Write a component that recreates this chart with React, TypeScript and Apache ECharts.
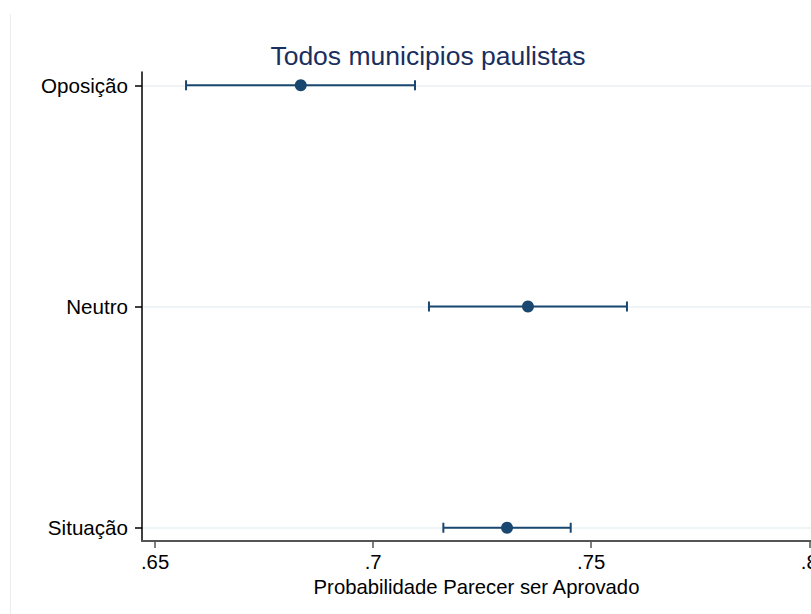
import React, { useEffect, useRef } from "react";
import * as echarts from "echarts";

const categories = ["Situação", "Neutro", "Oposição"];
const estimates = [0.7307, 0.7355, 0.6834];
const lower = [0.7161, 0.7128, 0.6571];
const upper = [0.7453, 0.7582, 0.7096];
const xTicks = [0.65, 0.7, 0.75, 0.8];
const yTicks = [1, 2, 3];

const FONT = "'Liberation Sans', Arial, sans-serif";
const NAVY = "#1a476f";

export default function App() {
  const ref = useRef<HTMLDivElement>(null);
  useEffect(() => {
    if (!ref.current) return;
    const chart = echarts.init(ref.current, undefined, { renderer: "svg" });
    const ciData = categories.map((_, i) => [lower[i], upper[i], i + 1]);
    const ptData = categories.map((_, i) => [estimates[i], i + 1]);
    chart.setOption({
      animation: false,
      backgroundColor: "#ffffff",
      textStyle: { fontFamily: FONT },
      title: {
        text: "Todos municipios paulistas",
        left: 423,
        textAlign: "center",
        top: 37,
        textStyle: { fontFamily: FONT, fontSize: 26.5, fontWeight: "normal", color: "#1a2f5e" },
      },
      graphic: [
        {
          type: "line",
          shape: { x1: 10.5, y1: 14, x2: 10.5, y2: 614 },
          style: { stroke: "#ececec", lineWidth: 1 },
        },
      ],
      grid: { left: 142, right: 0, top: 72, bottom: 73, containLabel: false, outerBoundsMode: "none" },
      xAxis: {
        type: "value",
        min: 0.647,
        max: 0.8004,
        name: "Probabilidade Parecer ser Aprovado",
        nameLocation: "middle",
        nameGap: 31,
        nameTextStyle: { fontFamily: FONT, fontSize: 20.3, color: "#000" },
        axisLine: { show: true, lineStyle: { color: "#555", width: 2 } },
        axisTick: { show: true, length: 7, customValues: xTicks, lineStyle: { color: "#555", width: 1.5 } },
        axisLabel: {
          show: true,
          customValues: xTicks,
          margin: 11,
          fontFamily: FONT,
          fontSize: 20.3,
          color: "#000",
          hideOverlap: false,
          formatter: (v: number) => String(+v.toFixed(2)).replace(/^0/, ""),
        },
        splitLine: { show: false },
      },
      yAxis: {
        type: "value",
        min: 0.94,
        max: 3.06,
        axisLine: { show: true, onZero: false, lineStyle: { color: "#000", width: 1.5 } },
        axisTick: { show: true, length: 7, customValues: yTicks, lineStyle: { color: "#000", width: 1.5 } },
        axisLabel: {
          show: true,
          customValues: yTicks,
          margin: 14,
          fontFamily: FONT,
          fontSize: 20.6,
          color: "#000",
          formatter: (v: number) => categories[Math.round(v) - 1] ?? "",
        },
        splitLine: { show: true, customValues: yTicks, lineStyle: { color: "#eaf2f3", width: 1.5 } },
      },
      series: [
        {
          type: "custom",
          data: ciData,
          renderItem: (params: any, api: any) => {
            const lo = api.value(0);
            const hi = api.value(1);
            const y = api.value(2);
            const p1 = api.coord([lo, y]);
            const p2 = api.coord([hi, y]);
            const cap = 5;
            const style = { stroke: NAVY, lineWidth: 2 };
            return {
              type: "group",
              children: [
                { type: "line", shape: { x1: p1[0], y1: p1[1], x2: p2[0], y2: p2[1] }, style },
                { type: "line", shape: { x1: p1[0], y1: p1[1] - cap, x2: p1[0], y2: p1[1] + cap }, style },
                { type: "line", shape: { x1: p2[0], y1: p2[1] - cap, x2: p2[0], y2: p2[1] + cap }, style },
              ],
            };
          },
          z: 2,
        },
        {
          type: "scatter",
          data: ptData,
          symbol: "circle",
          symbolSize: 12,
          itemStyle: { color: NAVY, opacity: 1 },
          z: 3,
        },
      ],
    });
    return () => chart.dispose();
  }, []);
  return (
    <div
      ref={ref}
      style={{ position: "fixed", left: 0, top: 0, width: 811, height: 614 }}
    />
  );
}
